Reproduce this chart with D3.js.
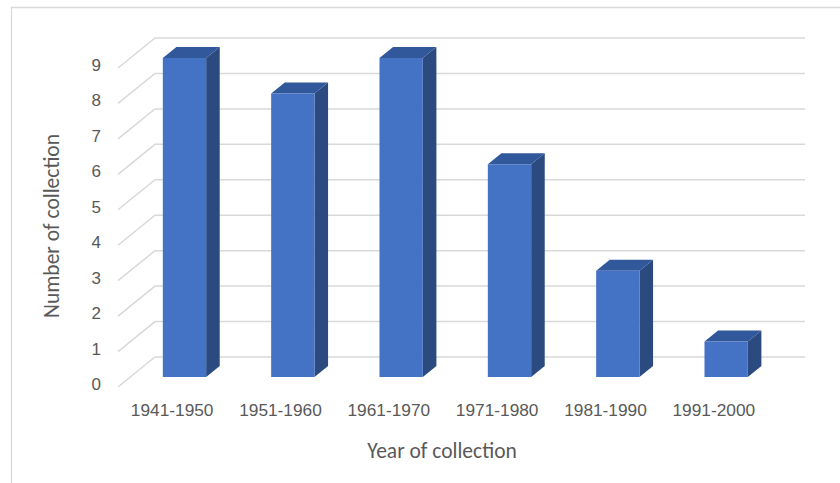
<!DOCTYPE html>
<html>
<head>
<meta charset="utf-8">
<script src="https://cdn.jsdelivr.net/npm/d3@7"></script>
<style>
  body { margin: 0; background: #fff; }
  svg { display: block; font-family: Calibri, Carlito, Lato, sans-serif; }
  .axis text { fill: #595959; }
</style>
</head>
<body>
<div id="chart"></div>
<script>
// Data
const categories = ["1941-1950", "1951-1960", "1961-1970", "1971-1980", "1981-1990", "1991-2000"];
const counts = [9, 8, 9, 6, 3, 1];
const yTicks = [0, 1, 2, 3, 4, 5, 6, 7, 8, 9];

const width = 840, height = 483;

// Back wall of the 3D plot area and the depth offset towards the viewer
const wall = { left: 155, right: 805, top: 38, bottom: 357 };
const depth = { dx: -37, dy: 30 };
const barFront = 0.667, barBack = 0.3;

// project a back-wall point forward by t (0 = back wall, 1 = front edge)
const proj = (x, y, t) => [x + depth.dx * t, y + depth.dy * t];

const svg = d3.select("#chart").append("svg")
  .attr("width", width)
  .attr("height", height);

// Chart area border (only the top and left edges are visible)
svg.append("path")
  .attr("d", `M11.5,${height}V7.5H${width}`)
  .attr("fill", "none")
  .attr("stroke", "#d9d9d9")
  .attr("stroke-width", 1.3);

const xScale = d3.scaleBand()
  .domain(categories)
  .range([wall.left, wall.right])
  .paddingInner(0.6)
  .paddingOuter(0.3);

const yScale = d3.scaleLinear()
  .domain([0, 9])
  .range([wall.bottom, wall.top]);

// Gridlines: along back wall plus the diagonal on the side wall
const grid = svg.append("g").attr("class", "grid");
yTicks.forEach(v => {
  const y = yScale(v);
  const f = proj(wall.left, y, 1);
  grid.append("path")
    .attr("d", `M${f[0]},${f[1]}L${wall.left},${y}H${wall.right}`)
    .attr("fill", "none")
    .attr("stroke", "#d9d9d9")
    .attr("stroke-width", 1.5);
});

// Bars: front face, right side, top
const bars = svg.append("g").attr("class", "bars");
categories.forEach((c, i) => {
  const x0 = xScale(c), x1 = x0 + xScale.bandwidth();
  const yt = yScale(counts[i]), yb = yScale(0);
  const fTL = proj(x0, yt, barFront), fTR = proj(x1, yt, barFront);
  const fBR = proj(x1, yb, barFront), fBL = proj(x0, yb, barFront);
  const bTL = proj(x0, yt, barBack), bTR = proj(x1, yt, barBack);
  const bBR = proj(x1, yb, barBack);

  const g = bars.append("g");
  g.append("polygon")
    .attr("points", [fTR, bTR, bBR, fBR].join(" "))
    .attr("fill", "#2b4a80");
  g.append("polygon")
    .attr("points", [fTL, bTL, bTR, fTR].join(" "))
    .attr("fill", "#32589c");
  g.append("polygon")
    .attr("points", [fTL, fTR, fBR, fBL].join(" "))
    .attr("fill", "#4472c4");
});

// Y axis labels at the front of the side wall
const yAxis = d3.axisLeft(yScale)
  .tickValues(yTicks)
  .tickSize(0)
  .tickPadding(17)
  .tickFormat(d3.format("d"));

svg.append("g")
  .attr("class", "axis y-axis")
  .attr("transform", `translate(${wall.left + depth.dx},${depth.dy - 3})`)
  .call(yAxis)
  .call(g => g.select(".domain").remove())
  .selectAll("text")
  .attr("font-size", 17);

// X axis labels at the front edge of the floor
const xAxis = d3.axisBottom(xScale)
  .tickSize(0)
  .tickPadding(17);

svg.append("g")
  .attr("class", "axis x-axis")
  .attr("transform", `translate(${depth.dx},${wall.bottom + depth.dy})`)
  .call(xAxis)
  .call(g => g.select(".domain").remove())
  .selectAll("text")
  .attr("font-size", 17.3);

// Axis titles
svg.append("text")
  .attr("x", 442)
  .attr("y", 458)
  .attr("text-anchor", "middle")
  .attr("fill", "#595959")
  .attr("font-size", 21.5)
  .text("Year of collection");

svg.append("text")
  .attr("transform", "translate(59,226) rotate(-90)")
  .attr("text-anchor", "middle")
  .attr("fill", "#595959")
  .attr("font-size", 21.5)
  .text("Number of collection");
</script>
</body>
</html>
